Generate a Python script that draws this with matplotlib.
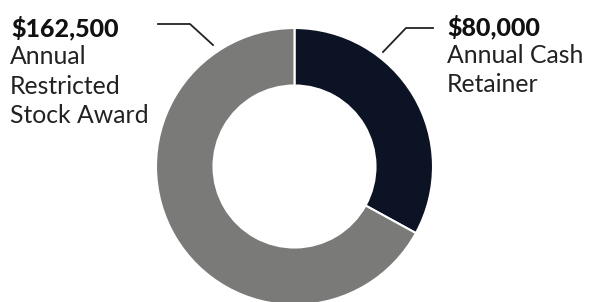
import matplotlib
matplotlib.use("Agg")
import matplotlib.pyplot as plt

labels = ["Annual Cash\nRetainer", "Annual\nRestricted\nStock Award"]
amounts = ["$80,000", "$162,500"]
values = [80000, 162500]
colors = ["#0b1324", "#7a7a78"]

W, H = 591, 302
fig = plt.figure(figsize=(W / 100, H / 100), dpi=100)
ax = fig.add_axes([0, 0, 1, 1])

def py(y):
    return H - y

cx, cy, r = 294.5, py(166.5), 138.5
ax.pie(values, colors=colors, startangle=90, counterclock=False,
       center=(cx, cy), radius=r, frame=True,
       wedgeprops=dict(width=57.5, edgecolor="white", linewidth=1.5))
ax.set_xlim(0, W)
ax.set_ylim(0, H)
ax.set_aspect("equal")
ax.axis("off")

font = "Lato"
# left label
ax.text(11, py(36), amounts[1], fontsize=18, fontweight="black", family=font,
        color="#111111", va="baseline", ha="left")
for i, line in enumerate(labels[1].split("\n")):
    ax.text(10, py(64 + 29.5 * i), line, fontsize=17.8, family=font,
            color="#222222", va="baseline", ha="left")
# right label
ax.text(447, py(35), amounts[0], fontsize=18, fontweight="black", family=font,
        color="#111111", va="baseline", ha="left")
for i, line in enumerate(labels[0].split("\n")):
    ax.text(447, py(63 + 29 * i), line, fontsize=17.8, family=font,
            color="#222222", va="baseline", ha="left")

# leader lines
ax.plot([158, 190, 213], [py(24), py(24), py(45)], color="#222222", lw=1.3)
ax.plot([383, 406, 433], [py(52), py(28), py(28)], color="#222222", lw=1.3)

fig.savefig("out.png", dpi=100, facecolor="white")
